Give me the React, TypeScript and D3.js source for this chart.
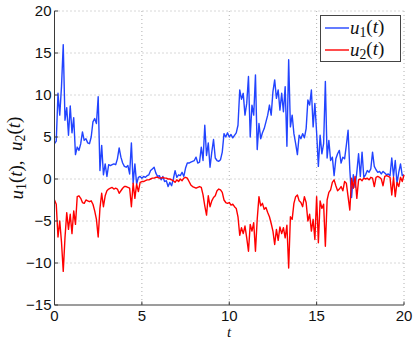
import React from "react";
import * as d3 from "d3";

const T_STEP = 0.1;
const u1Values = [
  4.2, 4.5, 10.2, 7.6, 11.0, 16.0, 7.0, 8.5, 5.2, 8.7,
  5.5, 7.3, 2.9, 3.8, 3.4, 4.2, 5.6, 4.6, 4.8, 4.3,
  4.2, 5.0, 6.8, 7.2, 6.6, 9.8, 1.0, 4.0, 0.5, 1.8,
  0.3, 1.7, 1.6, 1.7, 1.8, 1.7, 2.4, 3.7, 2.6, 1.9,
  1.5, 1.4, 1.6, 0.6, 4.3, -0.5, 1.8, -0.6, 0.2, 0.3,
  0.1, 0.3, 0.2, 0.4, 0.5, 1.0, 1.2, 1.4, 0.7, 0.3,
  0.4, -0.1, 0.3, -0.3, -0.2, -0.9, -0.4, -0.8, 0.0, 1.0,
  0.2, 0.5, 0.4, 0.8, 0.3, 1.3, 1.9, 1.9, 2.0, 2.1,
  2.2, 2.6, 1.9, 2.0, 3.8, 2.2, 6.4, 2.8, 4.3, 1.4,
  3.2, 4.7, 2.5, 2.2, 2.1, 2.3, 3.2, 5.4, 5.0, 5.5,
  5.0, 5.3, 4.9, 5.2, 5.5, 6.4, 10.6, 9.5, 10.2, 7.6,
  9.0, 12.2, 5.0, 8.8, 7.6, 12.4, 3.5, 6.6, 4.8, 5.5,
  6.0, 6.8, 7.6, 8.8, 7.6, 10.4, 11.8, 9.6, 10.6, 8.2,
  10.2, 8.0, 11.0, 3.9, 14.2, 6.2, 7.6, 5.4, 4.2, 2.9,
  5.2, 4.8, 5.4, 4.9, 6.0, 9.4, 8.8, 10.6, 6.2, 9.0,
  5.5, 1.5, 5.2, 3.0, 4.2, 11.6, 2.5, 4.6, 2.2, 2.6,
  0.4, 2.4, 3.0, 3.4, 1.9, 2.6, 2.4, 4.0, 5.8, 1.1,
  -2.2, 0.5, -1.0, 0.8, 3.0, 0.3, 3.2, 0.2, 0.5, 1.0,
  0.8, 1.2, 3.2, 1.5, 1.1, 0.8, 0.9, 0.6, 0.9, 0.7,
  0.5, 0.6, 0.4, 2.5, 0.3, 2.2, -0.5, 0.8, 1.8, 0.4,
  0.5,
];
const u2Values = [
  -2.5, -3.0, -6.9, -5.0, -7.5, -11.0, -7.0, -4.0, -6.0, -4.2,
  -6.5, -3.8, -5.4, -2.1, -2.0, -2.3, -2.8, -2.9, -2.5, -2.6,
  -2.7, -2.6, -3.0, -3.8, -4.8, -6.9, -3.5, -1.7, -3.3, -2.0,
  -1.4, -1.2, -1.1, -1.0, -1.2, -1.1, -1.2, -1.7, -1.4, -1.1,
  -0.9, -0.9, -1.0, -1.1, -3.3, -0.5, -2.3, -0.6, -1.5, -0.4,
  -0.3, -0.3, -0.2, -0.1, -0.1, 0.0, 0.1, 0.1, 0.2, 0.2,
  0.1, 0.1, 0.2, 0.1, 0.1, 0.0, 0.0, -0.1, -0.2, -0.4,
  -0.1, -0.3, 0.0, -0.2, 0.1, 0.2, 0.1, -0.3, -0.7, -0.9,
  -1.0, -1.1, -1.0, -0.9, -1.0, -1.9, -3.2, -4.3, -2.0, -3.3,
  -2.6, -2.2, -2.0, -1.4, -1.2, -1.3, -1.6, -2.5, -2.8, -2.9,
  -2.8, -3.1, -3.0, -3.3, -3.5, -4.5, -6.7, -5.8, -6.5, -5.6,
  -7.0, -8.6, -5.4, -6.2, -5.2, -8.6, -4.8, -2.1, -3.2, -2.9,
  -3.6, -3.4, -4.0, -4.5, -5.3, -6.2, -7.8, -6.0, -7.3, -5.7,
  -6.5, -5.8, -7.0, -5.5, -10.6, -4.5, -4.8, -2.9, -2.1, -1.9,
  -2.6, -2.8, -3.3, -2.1, -2.8, -5.0, -4.2, -6.2, -4.8, -7.2,
  -2.1, -7.6, -2.6, -3.5, -3.0, -8.0, -2.5, -1.6, -1.3, -0.4,
  -0.1, -0.8, -1.4, -1.2, -0.9, -1.4, -0.3, -0.5, -2.1, -3.7,
  0.1, -1.1, 0.3, -2.3, -0.1, 0.0, -0.2, 0.1, 0.0, 0.1,
  -0.1, 0.2, 0.1, -0.9, 0.2, 0.3, 0.2, 0.0, -0.8, 0.3,
  0.4, 0.3, 0.2, -1.9, 0.2, -2.1, -0.4, -0.9, 0.2, -0.3,
  0.5,
];
const xTicks = [0, 5, 10, 15, 20];
const yTicks = [-15, -10, -5, 0, 5, 10, 15, 20];

const W = 415;
const H = 340;
const M = { left: 54.5, right: 404, top: 11, bottom: 305 };

export default function App() {
  const x = d3.scaleLinear().domain([0, 20]).range([M.left, M.right]);
  const y = d3.scaleLinear().domain([-15, 20]).range([M.bottom, M.top]);
  const line = d3
    .line<number>()
    .x((_, i) => x(i * T_STEP))
    .y((d) => y(d));
  const tickFont = "'Liberation Sans', Arial, sans-serif";
  const mathFont = "'Liberation Serif', 'DejaVu Serif', serif";
  const gridColor = "#b0b0b0";
  const axisColor = "#3a3a3a";

  const label = (n: string) => (
    <>
      <tspan fontStyle="italic">u</tspan>
      <tspan fontSize="0.72em" dy="0.25em">{n}</tspan>
      <tspan dy="-0.25em">(</tspan>
      <tspan fontStyle="italic">t</tspan>
      <tspan>)</tspan>
    </>
  );

  return (
    <svg
      width={W}
      height={H}
      style={{ position: "absolute", left: 0, top: 0, background: "#fff" }}
    >
      <rect x={0} y={0} width={W} height={H} fill="#fff" />
      {/* grid */}
      <g stroke={gridColor} strokeWidth={1} strokeDasharray="1,3">
        {xTicks.slice(1).map((t) => (
          <line key={"gx" + t} x1={x(t)} x2={x(t)} y1={M.top} y2={M.bottom} />
        ))}
        {yTicks.slice(1).map((t) => (
          <line key={"gy" + t} x1={M.left} x2={M.right} y1={y(t)} y2={y(t)} />
        ))}
      </g>
      {/* data */}
      <path d={line(u1Values) || ""} fill="none" stroke="#2244ff" strokeWidth={1.4} strokeLinejoin="round" />
      <path d={line(u2Values) || ""} fill="none" stroke="#ff0000" strokeWidth={1.4} strokeLinejoin="round" />
      {/* axes */}
      <g stroke={axisColor} strokeWidth={1}>
        <line x1={M.left} x2={M.left} y1={M.top} y2={M.bottom} />
        <line x1={M.left} x2={M.right} y1={M.bottom} y2={M.bottom} />
        {xTicks.map((t) => (
          <line key={"tx" + t} x1={x(t)} x2={x(t)} y1={M.bottom} y2={M.bottom - 3.5} />
        ))}
        {yTicks.map((t) => (
          <line key={"ty" + t} x1={M.left} x2={M.left + 3.5} y1={y(t)} y2={y(t)} />
        ))}
      </g>
      {/* tick labels */}
      <g fontFamily={tickFont} fontSize={15} fill="#111">
        {xTicks.map((t) => (
          <text key={"lx" + t} x={x(t)} y={320.5} textAnchor="middle">
            {t}
          </text>
        ))}
        {yTicks.map((t) => (
          <text key={"ly" + t} x={51.5} y={y(t) + 5.3} textAnchor="end">
            {t < 0 ? "\u2212" + Math.abs(t) : String(t)}
          </text>
        ))}
      </g>
      {/* axis labels */}
      <text x={229} y={336.5} fontFamily={mathFont} fontSize={15} fontStyle="italic" textAnchor="middle" fill="#111">
        t
      </text>
      <text
        transform="translate(23,158) rotate(-90)"
        fontFamily={mathFont}
        fontSize={19}
        textAnchor="middle"
        fill="#111"
      >
        {label("1")}
        <tspan xmlSpace="preserve">,{"\u2002"}</tspan>
        {label("2")}
      </text>
      {/* legend */}
      <rect x={320.5} y={15.5} width={80} height={46} fill="#fff" stroke="#444" strokeWidth={1} />
      <line x1={325} x2={349} y1={28} y2={28} stroke="#2244ff" strokeWidth={1.4} />
      <line x1={325} x2={349} y1={50} y2={50} stroke="#ff0000" strokeWidth={1.4} />
      <text x={350} y={34} fontFamily={mathFont} fontSize={19} fill="#111">
        {label("1")}
      </text>
      <text x={350} y={56} fontFamily={mathFont} fontSize={19} fill="#111">
        {label("2")}
      </text>
    </svg>
  );
}
